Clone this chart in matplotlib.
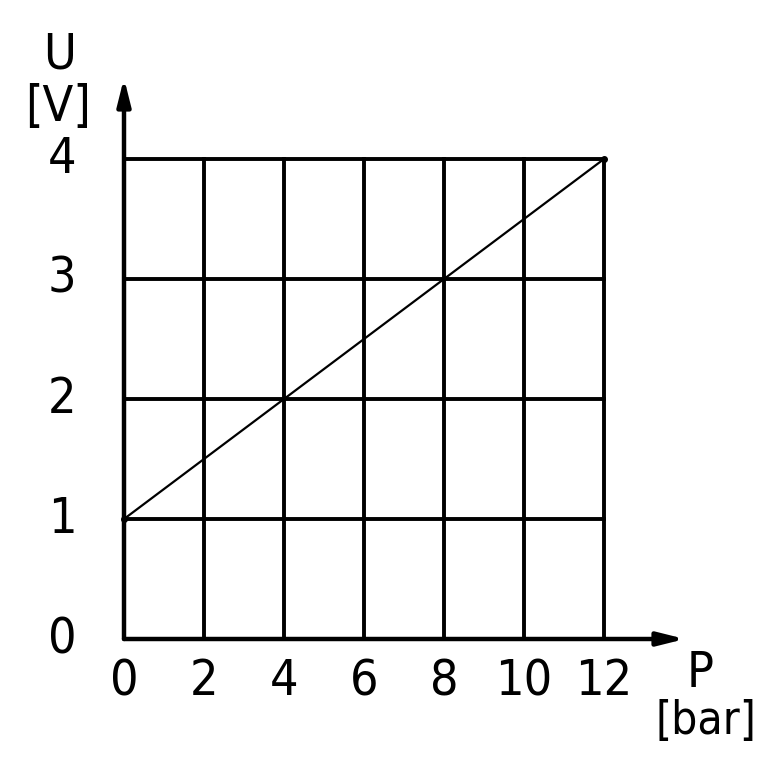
import matplotlib
matplotlib.use('Agg')
import matplotlib.pyplot as plt
from matplotlib import font_manager

# pressure sensor characteristic: output voltage vs pressure
p_ticks = [0, 2, 4, 6, 8, 10, 12]
u_ticks = [0, 1, 2, 3, 4]
line_p = [0, 12]
line_u = [1, 4]

# narrow face if one is around
narrow = [f for f in font_manager.fontManager.ttflist
          if 'Narrow' in f.name or 'Condensed' in f.name or 'ondensed' in str(f.stretch)]
if narrow:
    family, stretch = narrow[0].name, narrow[0].stretch
else:
    family, stretch = 'DejaVu Sans', 'normal'
plt.rcParams['font.family'] = [family, 'DejaVu Sans']
plt.rcParams['font.stretch'] = stretch

W = 764
fig = plt.figure(figsize=(7.64, 7.64), dpi=100)
# axes box spans from the origin to the arrow tips
x0, y0, x1, y1 = 124, 639, 685, 78
ax = fig.add_axes([x0 / W, 1 - y0 / W, (x1 - x0) / W, (y0 - y1) / W])
px = 40.0     # pixels per bar
py = 120.0    # pixels per volt
ax.set_xlim(0, (x1 - x0) / px)
ax.set_ylim(0, (y0 - y1) / py)
ax.axis('off')

xmax, ymax = p_ticks[-1], u_ticks[-1]
glw = 2.8
for p in p_ticks[1:]:
    ax.plot([p, p], [0, ymax], c='k', lw=glw, solid_capstyle='projecting', clip_on=False)
for u in u_ticks[1:]:
    ax.plot([0, xmax], [u, u], c='k', lw=glw, solid_capstyle='projecting', clip_on=False)

# axes with arrows
xend, yend = ax.get_xlim()[1], ax.get_ylim()[1]
arrow = dict(arrowstyle='-|>,head_length=1.6,head_width=0.4', color='k', lw=3.2,
             shrinkA=0, shrinkB=0)
ax.annotate('', xy=(xend, 0), xytext=(0, 0), arrowprops=arrow, annotation_clip=False)
ax.annotate('', xy=(0, yend), xytext=(0, 0), arrowprops=arrow, annotation_clip=False)

ax.plot(line_p, line_u, c='k', lw=1.6, marker='o', ms=4, clip_on=False)

fs = 36
for u in u_ticks:
    ax.text(-1.55, u, str(u), fontsize=fs, ha='center', va='center')
for p in p_ticks:
    ax.text(p, -0.35, str(p), fontsize=fs, ha='center', va='center')

ax.text(-1.6, 4.87, 'U', fontsize=fs, ha='center', va='center')
ax.text(-1.65, 4.43, '[V]', fontsize=fs, ha='center', va='center')
ax.text(14.4, -0.28, 'P', fontsize=fs, ha='center', va='center')
ax.text(14.55, -0.69, '[bar]', fontsize=33, ha='center', va='center')

fig.savefig('out.png', dpi=100)
